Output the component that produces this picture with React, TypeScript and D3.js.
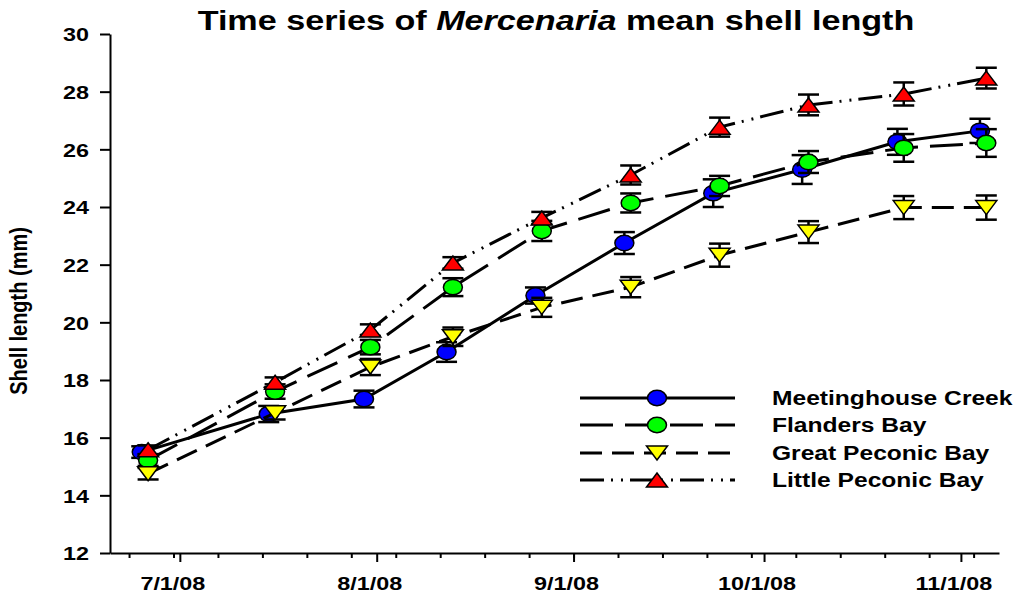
import React, { useEffect, useRef } from 'react';
import * as d3 from 'd3';

// sampling dates (Meetinghouse Creek was sampled a day before the bays)
const bayDates = ['2008-06-26', '2008-07-16', '2008-07-31', '2008-08-13', '2008-08-27', '2008-09-10', '2008-09-24', '2008-10-08', '2008-10-23', '2008-11-05'];
const creekDates = ['2008-06-25', '2008-07-15', '2008-07-30', '2008-08-12', '2008-08-26', '2008-09-09', '2008-09-23', '2008-10-07', '2008-10-22', '2008-11-04'];

const meetinghouseMean = [15.5, 16.82, 17.34, 18.97, 20.93, 22.75, 24.48, 25.3, 26.26, 26.64];
const meetinghouseErr = [0.2, 0.28, 0.29, 0.34, 0.28, 0.38, 0.48, 0.5, 0.45, 0.42];
const flandersMean = [15.22, 17.6, 19.14, 21.22, 23.17, 24.14, 24.73, 25.56, 26.05, 26.22];
const flandersErr = [0.2, 0.25, 0.25, 0.31, 0.35, 0.33, 0.35, 0.38, 0.48, 0.48];
const greatPeconicMean = [14.75, 16.86, 18.45, 19.5, 20.52, 21.22, 22.33, 23.13, 23.98, 23.98];
const greatPeconicErr = [0.2, 0.23, 0.28, 0.32, 0.33, 0.35, 0.4, 0.38, 0.4, 0.42];
const littlePeconicMean = [15.58, 17.92, 19.73, 22.06, 23.62, 25.11, 26.77, 27.54, 27.92, 28.47];
const littlePeconicErr = [0.15, 0.17, 0.2, 0.2, 0.21, 0.33, 0.33, 0.36, 0.4, 0.36];

const siteNames = ['Meetinghouse Creek', 'Flanders Bay', 'Great Peconic Bay', 'Little Peconic Bay'];
const yTicks = [12, 14, 16, 18, 20, 22, 24, 26, 28, 30];
const monthTicks = ['2008-07-01', '2008-08-01', '2008-09-01', '2008-10-01', '2008-11-01'];
const axisStart = '2008-06-20';
const axisEnd = '2008-11-07';

const FONT = '"Liberation Sans", Arial, sans-serif';
const SX = 1.23; // the original text is drawn a bit wide

type Shape = 'circle' | 'up' | 'down';

export default function App() {
  const svgRef = useRef<SVGSVGElement>(null);

  useEffect(() => {
    if (!svgRef.current) return;
    const parse = d3.timeParse('%Y-%m-%d');
    const svg = d3.select(svgRef.current);
    svg.selectAll('*').remove();

    const x = d3.scaleTime().domain([parse(axisStart)!, parse(axisEnd)!]).range([110, 999]);
    const y = d3.scaleLinear().domain([12, 30]).range([553, 34]);

    const series = [
      { name: siteNames[0], dates: creekDates, mean: meetinghouseMean, err: meetinghouseErr, fill: '#0000ff', shape: 'circle' as Shape, dash: null },
      { name: siteNames[1], dates: bayDates, mean: flandersMean, err: flandersErr, fill: '#00ff00', shape: 'circle' as Shape, dash: '33,12' },
      { name: siteNames[2], dates: bayDates, mean: greatPeconicMean, err: greatPeconicErr, fill: '#ffff00', shape: 'down' as Shape, dash: '22,10' },
      { name: siteNames[3], dates: bayDates, mean: littlePeconicMean, err: littlePeconicErr, fill: '#ff0000', shape: 'up' as Shape, dash: '24,7,2,8,2,7' },
    ];

    const drawMarker = (g: any, shape: Shape, cx: number, cy: number, fill: string) => {
      if (shape === 'circle') {
        g.append('ellipse').attr('cx', cx).attr('cy', cy).attr('rx', 9.5).attr('ry', 7.7)
          .attr('fill', fill).attr('stroke', '#000').attr('stroke-width', 1.5);
      } else {
        const w = 10.5, h = 7;
        const s = shape === 'up' ? 1 : -1;
        g.append('path')
          .attr('d', `M${cx},${cy - s * h}L${cx + w},${cy + s * h}L${cx - w},${cy + s * h}Z`)
          .attr('fill', fill).attr('stroke', '#000').attr('stroke-width', 1.5).attr('stroke-linejoin', 'miter');
      }
    };

    // axes
    const yAxis = svg.append('g').attr('transform', 'translate(110,0)')
      .call(d3.axisLeft(y).tickValues(yTicks).tickSize(10).tickSizeOuter(0).tickFormat(d3.format('d')));
    yAxis.select('.domain').attr('stroke-width', 2);
    yAxis.selectAll('.tick line').attr('stroke-width', 2);
    yAxis.selectAll('.tick text').attr('x', null).attr('dy', '0.36em')
      .attr('transform', `translate(-21,0) scale(${SX},1)`)
      .attr('font-family', FONT).attr('font-size', 19).attr('font-weight', 'bold').attr('fill', '#000');

    const weeks = d3.timeMonday.range(parse(axisStart)!, parse(axisEnd)!);
    const xMinor = svg.append('g').attr('transform', 'translate(0,553)')
      .call(d3.axisBottom(x).tickValues(weeks).tickSize(5).tickSizeOuter(0).tickFormat(() => ''));
    xMinor.select('.domain').attr('stroke-width', 2);
    xMinor.selectAll('.tick line').attr('stroke-width', 2);

    const xMajor = svg.append('g').attr('transform', 'translate(0,553)')
      .call(d3.axisBottom(x).tickValues(monthTicks.map((d) => parse(d)!)).tickSize(9).tickSizeOuter(0)
        .tickFormat((d) => d3.timeFormat('%-m/%-d/%y')(d as Date)));
    xMajor.select('.domain').remove();
    xMajor.selectAll('.tick line').attr('stroke-width', 2);
    xMajor.selectAll('.tick text').attr('y', null).attr('dy', null)
      .attr('transform', `translate(-7.5,37) scale(${SX},1)`)
      .attr('font-family', FONT).attr('font-size', 19).attr('font-weight', 'bold').attr('fill', '#000');

    // series
    series.forEach((s) => {
      const pts = s.dates.map((d, i) => ({ date: parse(d)!, v: s.mean[i], e: s.err[i] }));
      const line = d3.line<typeof pts[0]>().x((d) => x(d.date)).y((d) => y(d.v));
      svg.append('path').datum(pts).attr('d', line).attr('fill', 'none').attr('stroke', '#000')
        .attr('stroke-width', 3).attr('stroke-dasharray', s.dash);

      const g = svg.append('g');
      pts.forEach((p) => {
        const cx = x(p.date);
        const y0 = y(p.v - p.e), y1 = y(p.v + p.e);
        g.append('line').attr('x1', cx).attr('x2', cx).attr('y1', y0).attr('y2', y1).attr('stroke', '#000').attr('stroke-width', 2.5);
        g.append('line').attr('x1', cx - 10.5).attr('x2', cx + 10.5).attr('y1', y0).attr('y2', y0).attr('stroke', '#000').attr('stroke-width', 2.5);
        g.append('line').attr('x1', cx - 10.5).attr('x2', cx + 10.5).attr('y1', y1).attr('y2', y1).attr('stroke', '#000').attr('stroke-width', 2.5);
      });
      pts.forEach((p) => drawMarker(g, s.shape, x(p.date), y(p.v), s.fill));
    });

    // legend
    const legend = svg.append('g');
    series.forEach((s, i) => {
      const ry = [398, 425, 453, 480][i];
      legend.append('line').attr('x1', 580).attr('x2', 735).attr('y1', ry).attr('y2', ry)
        .attr('stroke', '#000').attr('stroke-width', 3).attr('stroke-dasharray', s.dash);
      drawMarker(legend, s.shape, 657, ry, s.fill);
      legend.append('text').attr('transform', `translate(772,${ry + 7}) scale(${SX},1)`)
        .attr('font-family', FONT).attr('font-size', 20).attr('font-weight', 'bold').text(s.name);
    });

    // titles
    const title = svg.append('text').attr('transform', `translate(556,30) scale(1.22,1)`)
      .attr('text-anchor', 'middle').attr('font-family', FONT).attr('font-size', 28).attr('font-weight', 'bold');
    title.append('tspan').text('Time series of ');
    title.append('tspan').attr('font-style', 'italic').text('Mercenaria');
    title.append('tspan').text(' mean shell length');

    svg.append('text').attr('transform', 'translate(27,311) rotate(-90) scale(1,1.18)').attr('text-anchor', 'middle')
      .attr('font-family', FONT).attr('font-size', 20).attr('font-weight', 'bold').text('Shell length (mm)');
  }, []);

  return (
    <svg ref={svgRef} width={1016} height={598}
      style={{ position: 'absolute', left: 0, top: 0, background: '#fff' }} />
  );
}
